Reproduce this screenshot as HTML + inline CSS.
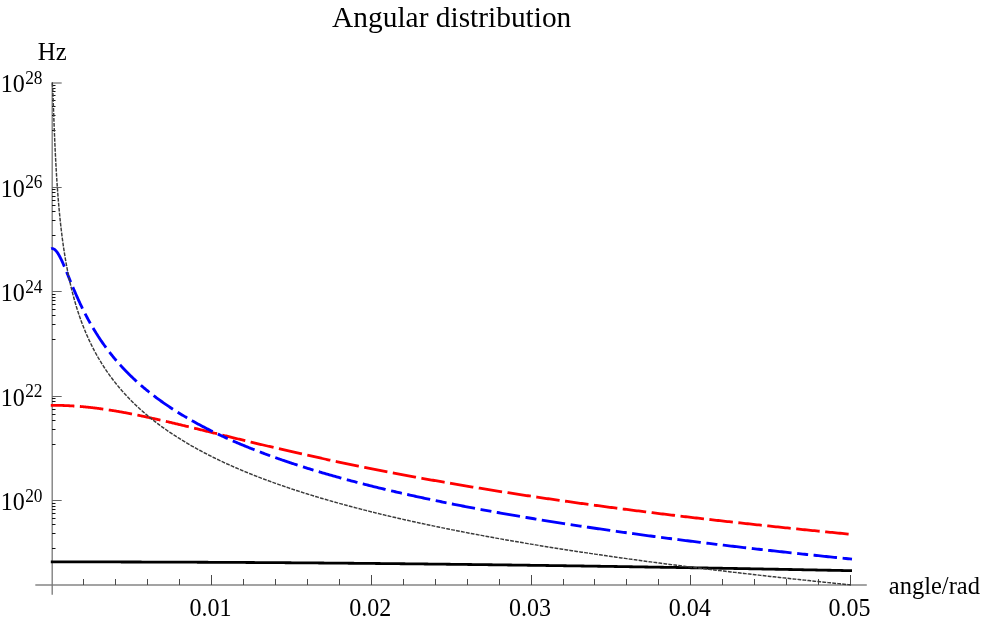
<!DOCTYPE html>
<html><head><meta charset="utf-8"><title>Angular distribution</title>
<style>html,body{margin:0;padding:0;background:#fff;width:981px;height:621px;overflow:hidden;font-family:"Liberation Serif",serif}</style></head>
<body>
<svg width="981" height="621" viewBox="0 0 981 621" style="position:absolute;left:0;top:0;will-change:transform">
<rect width="981" height="621" fill="#fff"/>
<g stroke="#858585" stroke-width="1.5" fill="none">
<line x1="35.3" y1="585.0" x2="866.8" y2="585.0"/>
<line x1="52.2" y1="82.0" x2="52.2" y2="594.8" stroke="#787878" stroke-width="1.3"/>
</g>
<g stroke="#4a4a4a" stroke-width="1" fill="none">
<line x1="83.50" y1="585.0" x2="83.50" y2="579.0"/>
<line x1="115.50" y1="585.0" x2="115.50" y2="579.0"/>
<line x1="147.50" y1="585.0" x2="147.50" y2="579.0"/>
<line x1="179.50" y1="585.0" x2="179.50" y2="579.0"/>
<line x1="211.50" y1="585.0" x2="211.50" y2="575.0"/>
<line x1="243.50" y1="585.0" x2="243.50" y2="579.0"/>
<line x1="275.50" y1="585.0" x2="275.50" y2="579.0"/>
<line x1="307.50" y1="585.0" x2="307.50" y2="579.0"/>
<line x1="339.50" y1="585.0" x2="339.50" y2="579.0"/>
<line x1="371.50" y1="585.0" x2="371.50" y2="575.0"/>
<line x1="403.50" y1="585.0" x2="403.50" y2="579.0"/>
<line x1="435.50" y1="585.0" x2="435.50" y2="579.0"/>
<line x1="467.50" y1="585.0" x2="467.50" y2="579.0"/>
<line x1="499.50" y1="585.0" x2="499.50" y2="579.0"/>
<line x1="531.50" y1="585.0" x2="531.50" y2="575.0"/>
<line x1="563.50" y1="585.0" x2="563.50" y2="579.0"/>
<line x1="594.50" y1="585.0" x2="594.50" y2="579.0"/>
<line x1="626.50" y1="585.0" x2="626.50" y2="579.0"/>
<line x1="658.50" y1="585.0" x2="658.50" y2="579.0"/>
<line x1="690.50" y1="585.0" x2="690.50" y2="575.0"/>
<line x1="722.50" y1="585.0" x2="722.50" y2="579.0"/>
<line x1="754.50" y1="585.0" x2="754.50" y2="579.0"/>
<line x1="786.50" y1="585.0" x2="786.50" y2="579.0"/>
<line x1="818.50" y1="585.0" x2="818.50" y2="579.0"/>
<line x1="850.50" y1="585.0" x2="850.50" y2="575.0"/>
</g>
<g stroke="#666" stroke-width="1" fill="none">
<line x1="52.0" y1="83.0" x2="61.7" y2="83.0" stroke="#707070" stroke-width="1.2"/>
<line x1="52.0" y1="187.50" x2="61.7" y2="187.50"/>
<line x1="52.0" y1="291.50" x2="61.7" y2="291.50"/>
<line x1="52.0" y1="396.50" x2="61.7" y2="396.50"/>
<line x1="52.0" y1="500.50" x2="61.7" y2="500.50"/>
</g>
<g stroke="#111" stroke-width="1" fill="none">
<line x1="52.0" y1="130.50" x2="55.5" y2="130.50"/>
<line x1="52.0" y1="115.50" x2="55.5" y2="115.50"/>
<line x1="52.0" y1="106.50" x2="55.5" y2="106.50"/>
<line x1="52.0" y1="100.50" x2="55.5" y2="100.50"/>
<line x1="52.0" y1="95.50" x2="55.5" y2="95.50"/>
<line x1="52.0" y1="91.50" x2="55.5" y2="91.50"/>
<line x1="52.0" y1="88.50" x2="55.5" y2="88.50"/>
<line x1="52.0" y1="85.50" x2="55.5" y2="85.50"/>
<line x1="52.0" y1="235.50" x2="55.5" y2="235.50"/>
<line x1="52.0" y1="220.50" x2="55.5" y2="220.50"/>
<line x1="52.0" y1="211.50" x2="55.5" y2="211.50"/>
<line x1="52.0" y1="205.50" x2="55.5" y2="205.50"/>
<line x1="52.0" y1="200.50" x2="55.5" y2="200.50"/>
<line x1="52.0" y1="196.50" x2="55.5" y2="196.50"/>
<line x1="52.0" y1="192.50" x2="55.5" y2="192.50"/>
<line x1="52.0" y1="189.50" x2="55.5" y2="189.50"/>
<line x1="52.0" y1="339.50" x2="55.5" y2="339.50"/>
<line x1="52.0" y1="324.50" x2="55.5" y2="324.50"/>
<line x1="52.0" y1="315.50" x2="55.5" y2="315.50"/>
<line x1="52.0" y1="309.50" x2="55.5" y2="309.50"/>
<line x1="52.0" y1="304.50" x2="55.5" y2="304.50"/>
<line x1="52.0" y1="300.50" x2="55.5" y2="300.50"/>
<line x1="52.0" y1="297.50" x2="55.5" y2="297.50"/>
<line x1="52.0" y1="294.50" x2="55.5" y2="294.50"/>
<line x1="52.0" y1="444.50" x2="55.5" y2="444.50"/>
<line x1="52.0" y1="429.50" x2="55.5" y2="429.50"/>
<line x1="52.0" y1="420.50" x2="55.5" y2="420.50"/>
<line x1="52.0" y1="414.50" x2="55.5" y2="414.50"/>
<line x1="52.0" y1="409.50" x2="55.5" y2="409.50"/>
<line x1="52.0" y1="405.50" x2="55.5" y2="405.50"/>
<line x1="52.0" y1="401.50" x2="55.5" y2="401.50"/>
<line x1="52.0" y1="398.50" x2="55.5" y2="398.50"/>
<line x1="52.0" y1="548.50" x2="55.5" y2="548.50"/>
<line x1="52.0" y1="533.50" x2="55.5" y2="533.50"/>
<line x1="52.0" y1="524.50" x2="55.5" y2="524.50"/>
<line x1="52.0" y1="518.50" x2="55.5" y2="518.50"/>
<line x1="52.0" y1="513.50" x2="55.5" y2="513.50"/>
<line x1="52.0" y1="509.50" x2="55.5" y2="509.50"/>
<line x1="52.0" y1="506.50" x2="55.5" y2="506.50"/>
<line x1="52.0" y1="503.50" x2="55.5" y2="503.50"/>
</g>
<path d="M50.80,561.90 L51.23,561.90 L51.67,561.90 L52.10,561.90 L52.10,561.90 L52.10,561.90 L52.11,561.90 L52.12,561.90 L52.13,561.90 L52.14,561.90 L52.16,561.90 L52.18,561.90 L52.20,561.90 L52.22,561.90 L52.25,561.90 L52.28,561.90 L52.31,561.90 L52.34,561.90 L52.38,561.90 L52.42,561.90 L52.46,561.90 L52.50,561.90 L52.55,561.90 L52.60,561.90 L52.65,561.90 L52.70,561.90 L52.76,561.90 L52.82,561.90 L52.88,561.90 L52.94,561.90 L53.01,561.90 L53.08,561.90 L53.15,561.90 L53.22,561.90 L53.30,561.90 L53.38,561.90 L53.46,561.90 L53.54,561.90 L53.63,561.90 L53.72,561.90 L53.81,561.90 L53.90,561.90 L54.00,561.90 L54.10,561.90 L54.20,561.90 L54.30,561.90 L54.41,561.90 L54.52,561.90 L54.63,561.90 L54.74,561.90 L54.86,561.90 L54.98,561.90 L55.10,561.90 L55.22,561.90 L55.35,561.90 L55.48,561.90 L55.61,561.90 L55.74,561.90 L55.88,561.90 L56.02,561.90 L56.16,561.90 L56.30,561.90 L56.45,561.90 L56.60,561.90 L56.75,561.90 L56.90,561.90 L57.06,561.90 L57.22,561.90 L57.38,561.90 L57.54,561.90 L57.71,561.90 L57.88,561.90 L58.05,561.90 L58.22,561.90 L58.40,561.90 L58.58,561.90 L58.76,561.90 L58.94,561.90 L59.13,561.90 L59.32,561.90 L59.51,561.90 L59.70,561.90 L59.90,561.90 L60.10,561.90 L60.30,561.90 L60.50,561.90 L60.71,561.90 L60.92,561.90 L61.13,561.90 L61.34,561.90 L61.56,561.90 L61.78,561.90 L62.00,561.90 L62.22,561.90 L62.45,561.90 L62.68,561.90 L62.91,561.90 L63.14,561.90 L63.38,561.90 L63.62,561.90 L63.86,561.90 L64.10,561.90 L64.35,561.90 L64.60,561.90 L64.85,561.91 L65.10,561.91 L65.36,561.91 L65.62,561.91 L65.88,561.91 L66.14,561.91 L66.41,561.91 L66.68,561.91 L66.95,561.91 L67.22,561.91 L67.50,561.91 L67.78,561.91 L68.06,561.91 L68.34,561.91 L68.63,561.91 L68.92,561.91 L69.21,561.91 L69.50,561.91 L69.80,561.91 L70.10,561.91 L70.40,561.91 L70.70,561.91 L71.01,561.91 L71.32,561.91 L71.63,561.91 L71.94,561.91 L72.26,561.91 L72.58,561.91 L72.90,561.91 L73.22,561.91 L73.55,561.91 L73.88,561.91 L74.21,561.91 L74.54,561.91 L74.88,561.91 L75.22,561.91 L75.56,561.91 L75.90,561.91 L76.25,561.91 L76.60,561.91 L76.95,561.91 L77.30,561.91 L77.66,561.91 L78.02,561.91 L78.38,561.91 L78.74,561.91 L79.11,561.91 L79.48,561.91 L79.85,561.91 L80.22,561.91 L80.60,561.92 L80.98,561.92 L81.36,561.92 L81.74,561.92 L82.13,561.92 L82.52,561.92 L82.91,561.92 L83.30,561.92 L83.70,561.92 L84.10,561.92 L84.50,561.92 L84.90,561.92 L85.31,561.92 L85.72,561.92 L86.13,561.92 L86.54,561.92 L86.96,561.92 L87.38,561.92 L87.80,561.92 L88.22,561.92 L88.65,561.92 L89.08,561.92 L89.51,561.92 L89.94,561.92 L90.38,561.93 L90.82,561.93 L91.26,561.93 L91.70,561.93 L92.15,561.93 L92.59,561.93 L93.05,561.93 L93.50,561.93 L93.96,561.93 L94.41,561.93 L94.88,561.93 L95.34,561.93 L95.81,561.93 L96.27,561.93 L96.75,561.93 L97.22,561.93 L97.70,561.93 L98.17,561.94 L98.66,561.94 L99.14,561.94 L99.63,561.94 L100.11,561.94 L100.61,561.94 L101.10,561.94 L101.60,561.94 L102.09,561.94 L102.59,561.94 L103.10,561.94 L103.60,561.94 L104.11,561.94 L104.62,561.94 L105.14,561.95 L105.65,561.95 L106.17,561.95 L106.69,561.95 L107.22,561.95 L107.74,561.95 L108.27,561.95 L108.80,561.95 L109.34,561.95 L109.87,561.95 L110.41,561.95 L110.95,561.96 L111.50,561.96 L112.04,561.96 L112.59,561.96 L113.14,561.96 L113.70,561.96 L114.25,561.96 L114.81,561.96 L115.37,561.96 L115.94,561.97 L116.50,561.97 L117.07,561.97 L117.64,561.97 L118.22,561.97 L118.79,561.97 L119.37,561.97 L119.95,561.97 L120.54,561.97 L121.12,561.98 L121.71,561.98 L122.30,561.98 L122.90,561.98 L123.49,561.98 L124.09,561.98 L124.69,561.98 L125.30,561.98 L125.90,561.99 L126.51,561.99 L127.12,561.99 L127.74,561.99 L128.35,561.99 L128.97,561.99 L129.59,561.99 L130.22,562.00 L130.84,562.00 L131.47,562.00 L132.10,562.00 L132.73,562.00 L133.37,562.00 L134.01,562.01 L134.65,562.01 L135.29,562.01 L135.94,562.01 L136.59,562.01 L137.24,562.01 L137.89,562.02 L138.55,562.02 L139.21,562.02 L139.87,562.02 L140.53,562.02 L141.20,562.02 L141.87,562.03 L142.54,562.03 L143.21,562.03 L143.89,562.03 L144.57,562.03 L145.25,562.04 L145.93,562.04 L146.62,562.04 L147.31,562.04 L148.00,562.04 L148.69,562.05 L149.39,562.05 L150.09,562.05 L150.79,562.05 L151.49,562.05 L152.20,562.06 L152.91,562.06 L153.62,562.06 L154.33,562.06 L155.05,562.07 L155.77,562.07 L156.49,562.07 L157.21,562.07 L157.94,562.07 L158.67,562.08 L159.40,562.08 L160.13,562.08 L160.87,562.08 L161.61,562.09 L162.35,562.09 L163.09,562.09 L163.84,562.09 L164.59,562.10 L165.34,562.10 L166.09,562.10 L166.85,562.10 L167.61,562.11 L168.37,562.11 L169.13,562.11 L169.90,562.12 L170.67,562.12 L171.44,562.12 L172.21,562.12 L172.99,562.13 L173.76,562.13 L174.55,562.13 L175.33,562.14 L176.12,562.14 L176.90,562.14 L177.70,562.14 L178.49,562.15 L179.29,562.15 L180.08,562.15 L180.89,562.16 L181.69,562.16 L182.49,562.16 L183.30,562.17 L184.11,562.17 L184.93,562.17 L185.74,562.18 L186.56,562.18 L187.38,562.18 L188.21,562.19 L189.03,562.19 L189.86,562.19 L190.69,562.20 L191.53,562.20 L192.36,562.20 L193.20,562.21 L194.04,562.21 L194.89,562.21 L195.73,562.22 L196.58,562.22 L197.43,562.23 L198.29,562.23 L199.14,562.23 L200.00,562.24 L200.86,562.24 L201.73,562.25 L202.59,562.25 L203.46,562.25 L204.33,562.26 L205.21,562.26 L206.08,562.27 L206.96,562.27 L207.84,562.27 L208.73,562.28 L209.61,562.28 L210.50,562.29 L211.39,562.29 L212.28,562.30 L213.18,562.30 L214.08,562.30 L214.98,562.31 L215.88,562.31 L216.79,562.32 L217.70,562.32 L218.61,562.33 L219.52,562.33 L220.44,562.34 L221.36,562.34 L222.28,562.35 L223.20,562.35 L224.13,562.35 L225.06,562.36 L225.99,562.36 L226.92,562.37 L227.86,562.37 L228.80,562.38 L229.74,562.38 L230.68,562.39 L231.63,562.39 L232.58,562.40 L233.53,562.41 L234.48,562.41 L235.44,562.42 L236.40,562.42 L237.36,562.43 L238.32,562.43 L239.29,562.44 L240.26,562.44 L241.23,562.45 L242.20,562.45 L243.18,562.46 L244.16,562.47 L245.14,562.47 L246.12,562.48 L247.11,562.48 L248.10,562.49 L249.09,562.49 L250.08,562.50 L251.08,562.51 L252.07,562.51 L253.08,562.52 L254.08,562.52 L255.09,562.53 L256.09,562.54 L257.11,562.54 L258.12,562.55 L259.14,562.56 L260.15,562.56 L261.18,562.57 L262.20,562.58 L263.22,562.58 L264.25,562.59 L265.28,562.60 L266.32,562.60 L267.35,562.61 L268.39,562.62 L269.43,562.62 L270.48,562.63 L271.52,562.64 L272.57,562.64 L273.62,562.65 L274.68,562.66 L275.73,562.66 L276.79,562.67 L277.85,562.68 L278.92,562.69 L279.98,562.69 L281.05,562.70 L282.12,562.71 L283.20,562.72 L284.27,562.72 L285.35,562.73 L286.43,562.74 L287.52,562.75 L288.60,562.75 L289.69,562.76 L290.78,562.77 L291.88,562.78 L292.97,562.78 L294.07,562.79 L295.17,562.80 L296.27,562.81 L297.38,562.82 L298.49,562.83 L299.60,562.83 L300.71,562.84 L301.83,562.85 L302.95,562.86 L304.07,562.87 L305.19,562.88 L306.32,562.88 L307.45,562.89 L308.58,562.90 L309.71,562.91 L310.85,562.92 L311.99,562.93 L313.13,562.94 L314.27,562.95 L315.42,562.95 L316.57,562.96 L317.72,562.97 L318.87,562.98 L320.03,562.99 L321.19,563.00 L322.35,563.01 L323.51,563.02 L324.68,563.03 L325.85,563.04 L327.02,563.05 L328.19,563.06 L329.37,563.07 L330.55,563.08 L331.73,563.09 L332.91,563.10 L334.10,563.11 L335.28,563.12 L336.48,563.13 L337.67,563.14 L338.87,563.15 L340.06,563.16 L341.27,563.17 L342.47,563.18 L343.67,563.19 L344.88,563.20 L346.09,563.21 L347.31,563.22 L348.52,563.23 L349.74,563.24 L350.96,563.25 L352.19,563.26 L353.41,563.27 L354.64,563.29 L355.87,563.30 L357.11,563.31 L358.34,563.32 L359.58,563.33 L360.82,563.34 L362.07,563.35 L363.31,563.36 L364.56,563.38 L365.81,563.39 L367.07,563.40 L368.32,563.41 L369.58,563.42 L370.84,563.43 L372.10,563.45 L373.37,563.46 L374.64,563.47 L375.91,563.48 L377.18,563.49 L378.46,563.51 L379.74,563.52 L381.02,563.53 L382.30,563.54 L383.59,563.56 L384.88,563.57 L386.17,563.58 L387.46,563.59 L388.76,563.61 L390.06,563.62 L391.36,563.63 L392.66,563.65 L393.97,563.66 L395.28,563.67 L396.59,563.69 L397.90,563.70 L399.22,563.71 L400.54,563.73 L401.86,563.74 L403.18,563.75 L404.51,563.77 L405.84,563.78 L407.17,563.79 L408.50,563.81 L409.84,563.82 L411.18,563.84 L412.52,563.85 L413.86,563.87 L415.21,563.88 L416.55,563.89 L417.91,563.91 L419.26,563.92 L420.62,563.94 L421.97,563.95 L423.33,563.97 L424.70,563.98 L426.06,564.00 L427.43,564.01 L428.80,564.03 L430.18,564.04 L431.55,564.06 L432.93,564.07 L434.31,564.09 L435.70,564.10 L437.08,564.12 L438.47,564.13 L439.86,564.15 L441.26,564.17 L442.65,564.18 L444.05,564.20 L445.45,564.21 L446.86,564.23 L448.26,564.24 L449.67,564.26 L451.08,564.28 L452.49,564.29 L453.91,564.31 L455.33,564.33 L456.75,564.34 L458.17,564.36 L459.60,564.38 L461.03,564.39 L462.46,564.41 L463.89,564.43 L465.33,564.44 L466.77,564.46 L468.21,564.48 L469.65,564.50 L471.10,564.51 L472.55,564.53 L474.00,564.55 L475.45,564.57 L476.91,564.58 L478.37,564.60 L479.83,564.62 L481.29,564.64 L482.76,564.66 L484.23,564.67 L485.70,564.69 L487.17,564.71 L488.65,564.73 L490.13,564.75 L491.61,564.77 L493.09,564.79 L494.58,564.80 L496.06,564.82 L497.56,564.84 L499.05,564.86 L500.55,564.88 L502.04,564.90 L503.54,564.92 L505.05,564.94 L506.55,564.96 L508.06,564.98 L509.57,565.00 L511.09,565.02 L512.60,565.04 L514.12,565.06 L515.64,565.08 L517.17,565.10 L518.69,565.12 L520.22,565.14 L521.75,565.16 L523.29,565.18 L524.82,565.20 L526.36,565.22 L527.90,565.24 L529.45,565.26 L530.99,565.28 L532.54,565.30 L534.09,565.32 L535.64,565.34 L537.20,565.37 L538.76,565.39 L540.32,565.41 L541.88,565.43 L543.45,565.45 L545.02,565.47 L546.59,565.49 L548.16,565.52 L549.74,565.54 L551.32,565.56 L552.90,565.58 L554.48,565.60 L556.07,565.63 L557.66,565.65 L559.25,565.67 L560.84,565.69 L562.44,565.72 L564.04,565.74 L565.64,565.76 L567.24,565.79 L568.85,565.81 L570.46,565.83 L572.07,565.86 L573.68,565.88 L575.30,565.90 L576.91,565.93 L578.54,565.95 L580.16,565.97 L581.79,566.00 L583.41,566.02 L585.04,566.05 L586.68,566.07 L588.31,566.09 L589.95,566.12 L591.59,566.14 L593.24,566.17 L594.88,566.19 L596.53,566.22 L598.18,566.24 L599.84,566.27 L601.49,566.29 L603.15,566.32 L604.81,566.34 L606.48,566.37 L608.14,566.39 L609.81,566.42 L611.48,566.44 L613.15,566.47 L614.83,566.50 L616.51,566.52 L618.19,566.55 L619.87,566.57 L621.56,566.60 L623.25,566.63 L624.94,566.65 L626.63,566.68 L628.33,566.71 L630.03,566.73 L631.73,566.76 L633.43,566.79 L635.14,566.81 L636.85,566.84 L638.56,566.87 L640.27,566.89 L641.99,566.92 L643.71,566.95 L645.43,566.98 L647.15,567.00 L648.88,567.03 L650.61,567.06 L652.34,567.09 L654.07,567.12 L655.81,567.14 L657.54,567.17 L659.29,567.20 L661.03,567.23 L662.77,567.26 L664.52,567.29 L666.27,567.32 L668.03,567.35 L669.78,567.37 L671.54,567.40 L673.30,567.43 L675.07,567.46 L676.83,567.49 L678.60,567.52 L680.37,567.55 L682.15,567.58 L683.92,567.61 L685.70,567.64 L687.48,567.67 L689.27,567.70 L691.05,567.73 L692.84,567.76 L694.63,567.79 L696.42,567.82 L698.22,567.85 L700.02,567.88 L701.82,567.91 L703.62,567.95 L705.43,567.98 L707.24,568.01 L709.05,568.04 L710.86,568.07 L712.68,568.10 L714.50,568.13 L716.32,568.17 L718.14,568.20 L719.97,568.23 L721.80,568.26 L723.63,568.29 L725.46,568.33 L727.30,568.36 L729.14,568.39 L730.98,568.42 L732.82,568.46 L734.67,568.49 L736.51,568.52 L738.37,568.55 L740.22,568.59 L742.07,568.62 L743.93,568.65 L745.79,568.69 L747.66,568.72 L749.52,568.76 L751.39,568.79 L753.26,568.82 L755.14,568.86 L757.01,568.89 L758.89,568.93 L760.77,568.96 L762.66,568.99 L764.54,569.03 L766.43,569.06 L768.32,569.10 L770.22,569.13 L772.11,569.17 L774.01,569.20 L775.91,569.24 L777.81,569.27 L779.72,569.31 L781.63,569.34 L783.54,569.38 L785.45,569.42 L787.37,569.45 L789.29,569.49 L791.21,569.52 L793.13,569.56 L795.06,569.60 L796.99,569.63 L798.92,569.67 L800.85,569.70 L802.79,569.74 L804.73,569.78 L806.67,569.81 L808.61,569.85 L810.56,569.89 L812.50,569.93 L814.46,569.96 L816.41,570.00 L818.37,570.04 L820.32,570.08 L822.28,570.11 L824.25,570.15 L826.21,570.19 L828.18,570.23 L830.15,570.27 L832.13,570.30 L834.10,570.34 L836.08,570.38 L838.06,570.42 L840.05,570.46 L842.03,570.50 L844.02,570.54 L846.01,570.58 L848.01,570.61 L850.00,570.65 L852.00,570.69" fill="none" stroke="#000" stroke-width="2.8"/>
<path d="M50.80,405.30 L51.23,405.30 L51.67,405.30 L52.10,405.30 L52.10,405.30 L52.10,405.30 L52.11,405.30 L52.12,405.30 L52.13,405.30 L52.14,405.30 L52.16,405.30 L52.18,405.30 L52.20,405.30 L52.22,405.30 L52.25,405.30 L52.28,405.30 L52.31,405.30 L52.34,405.30 L52.38,405.30 L52.42,405.30 L52.46,405.30 L52.50,405.30 L52.55,405.30 L52.60,405.30 L52.65,405.30 L52.70,405.30 L52.76,405.30 L52.82,405.30 L52.88,405.30 L52.94,405.30 L53.01,405.30 L53.08,405.30 L53.15,405.30 L53.22,405.30 L53.30,405.30 L53.38,405.30 L53.46,405.30 L53.54,405.30 L53.63,405.30 L53.72,405.30 L53.81,405.30 L53.90,405.30 L54.00,405.31 L54.10,405.31 L54.20,405.31 L54.30,405.31 L54.41,405.31 L54.52,405.31 L54.63,405.31 L54.74,405.31 L54.86,405.31 L54.98,405.31 L55.10,405.31 L55.22,405.31 L55.35,405.32 L55.48,405.32 L55.61,405.32 L55.74,405.32 L55.88,405.32 L56.02,405.32 L56.16,405.32 L56.30,405.33 L56.45,405.33 L56.60,405.33 L56.75,405.33 L56.90,405.33 L57.06,405.34 L57.22,405.34 L57.38,405.34 L57.54,405.34 L57.71,405.35 L57.88,405.35 L58.05,405.35 L58.22,405.36 L58.40,405.36 L58.58,405.36 L58.76,405.37 L58.94,405.37 L59.13,405.38 L59.32,405.38 L59.51,405.38 L59.70,405.39 L59.90,405.39 L60.10,405.40 L60.30,405.40 L60.50,405.41 L60.71,405.41 L60.92,405.42 L61.13,405.42 L61.34,405.43 L61.56,405.44 L61.78,405.44 L62.00,405.45 L62.22,405.46 L62.45,405.46 L62.68,405.47 L62.91,405.48 L63.14,405.49 L63.38,405.49 L63.62,405.50 L63.86,405.51 L64.10,405.52 L64.35,405.53 L64.60,405.54 L64.85,405.55 L65.10,405.56 L65.36,405.57 L65.62,405.58 L65.88,405.59 L66.14,405.60 L66.41,405.61 L66.68,405.62 L66.95,405.64 L67.22,405.65 L67.50,405.66 L67.78,405.67 L68.06,405.69 L68.34,405.70 L68.63,405.71 L68.92,405.73 L69.21,405.74 L69.50,405.76 L69.80,405.78 L70.10,405.79 L70.40,405.81 L70.70,405.82 L71.01,405.84 L71.32,405.86 L71.63,405.88 L71.94,405.90 L72.26,405.92 L72.58,405.94 L72.90,405.96 L73.22,405.98 L73.55,406.00 L73.88,406.02 L74.21,406.04 L74.54,406.06 L74.88,406.08 L75.22,406.11 L75.56,406.13 L75.90,406.16 L76.25,406.18 L76.60,406.21 L76.95,406.23 L77.30,406.26 L77.66,406.29 L78.02,406.31 L78.38,406.34 L78.74,406.37 L79.11,406.40 L79.48,406.43 L79.85,406.46 L80.22,406.49 L80.60,406.52 L80.98,406.55 L81.36,406.59 L81.74,406.62 L82.13,406.65 L82.52,406.69 L82.91,406.72 L83.30,406.76 L83.70,406.80 L84.10,406.83 L84.50,406.87 L84.90,406.91 L85.31,406.95 L85.72,406.99 L86.13,407.03 L86.54,407.07 L86.96,407.11 L87.38,407.16 L87.80,407.20 L88.22,407.24 L88.65,407.29 L89.08,407.34 L89.51,407.38 L89.94,407.43 L90.38,407.48 L90.82,407.53 L91.26,407.58 L91.70,407.63 L92.15,407.68 L92.59,407.73 L93.05,407.78 L93.50,407.84 L93.96,407.89 L94.41,407.95 L94.88,408.00 L95.34,408.06 L95.81,408.12 L96.27,408.17 L96.75,408.23 L97.22,408.29 L97.70,408.36 L98.17,408.42 L98.66,408.48 L99.14,408.54 L99.63,408.61 L100.11,408.67 L100.61,408.74 L101.10,408.81 L101.60,408.88 L102.09,408.95 L102.59,409.02 L103.10,409.09 L103.60,409.16 L104.11,409.23 L104.62,409.31 L105.14,409.38 L105.65,409.46 L106.17,409.53 L106.69,409.61 L107.22,409.69 L107.74,409.77 L108.27,409.85 L108.80,409.93 L109.34,410.01 L109.87,410.10 L110.41,410.18 L110.95,410.27 L111.50,410.35 L112.04,410.44 L112.59,410.53 L113.14,410.62 L113.70,410.71 L114.25,410.80 L114.81,410.90 L115.37,410.99 L115.94,411.08 L116.50,411.18 L117.07,411.28 L117.64,411.37 L118.22,411.47 L118.79,411.57 L119.37,411.67 L119.95,411.78 L120.54,411.88 L121.12,411.98 L121.71,412.09 L122.30,412.20 L122.90,412.30 L123.49,412.41 L124.09,412.52 L124.69,412.63 L125.30,412.74 L125.90,412.86 L126.51,412.97 L127.12,413.09 L127.74,413.20 L128.35,413.32 L128.97,413.44 L129.59,413.56 L130.22,413.68 L130.84,413.80 L131.47,413.92 L132.10,414.04 L132.73,414.17 L133.37,414.29 L134.01,414.42 L134.65,414.55 L135.29,414.68 L135.94,414.81 L136.59,414.94 L137.24,415.07 L137.89,415.20 L138.55,415.34 L139.21,415.47 L139.87,415.61 L140.53,415.75 L141.20,415.89 L141.87,416.03 L142.54,416.17 L143.21,416.31 L143.89,416.45 L144.57,416.60 L145.25,416.74 L145.93,416.89 L146.62,417.04 L147.31,417.19 L148.00,417.33 L148.69,417.49 L149.39,417.64 L150.09,417.79 L150.79,417.94 L151.49,418.10 L152.20,418.25 L152.91,418.41 L153.62,418.57 L154.33,418.73 L155.05,418.89 L155.77,419.05 L156.49,419.21 L157.21,419.37 L157.94,419.54 L158.67,419.70 L159.40,419.87 L160.13,420.04 L160.87,420.20 L161.61,420.37 L162.35,420.54 L163.09,420.71 L163.84,420.89 L164.59,421.06 L165.34,421.23 L166.09,421.41 L166.85,421.58 L167.61,421.76 L168.37,421.94 L169.13,422.12 L169.90,422.30 L170.67,422.48 L171.44,422.66 L172.21,422.84 L172.99,423.03 L173.76,423.21 L174.55,423.40 L175.33,423.58 L176.12,423.77 L176.90,423.96 L177.70,424.15 L178.49,424.34 L179.29,424.53 L180.08,424.72 L180.89,424.91 L181.69,425.11 L182.49,425.30 L183.30,425.49 L184.11,425.69 L184.93,425.89 L185.74,426.09 L186.56,426.28 L187.38,426.48 L188.21,426.68 L189.03,426.88 L189.86,427.09 L190.69,427.29 L191.53,427.49 L192.36,427.70 L193.20,427.90 L194.04,428.11 L194.89,428.31 L195.73,428.52 L196.58,428.73 L197.43,428.94 L198.29,429.15 L199.14,429.36 L200.00,429.57 L200.86,429.78 L201.73,429.99 L202.59,430.21 L203.46,430.42 L204.33,430.63 L205.21,430.85 L206.08,431.06 L206.96,431.28 L207.84,431.50 L208.73,431.72 L209.61,431.94 L210.50,432.15 L211.39,432.37 L212.28,432.59 L213.18,432.82 L214.08,433.04 L214.98,433.26 L215.88,433.48 L216.79,433.71 L217.70,433.93 L218.61,434.16 L219.52,434.38 L220.44,434.61 L221.36,434.83 L222.28,435.06 L223.20,435.29 L224.13,435.52 L225.06,435.74 L225.99,435.97 L226.92,436.20 L227.86,436.43 L228.80,436.66 L229.74,436.89 L230.68,437.13 L231.63,437.36 L232.58,437.59 L233.53,437.82 L234.48,438.06 L235.44,438.29 L236.40,438.53 L237.36,438.76 L238.32,439.00 L239.29,439.23 L240.26,439.47 L241.23,439.71 L242.20,439.94 L243.18,440.18 L244.16,440.42 L245.14,440.66 L246.12,440.90 L247.11,441.14 L248.10,441.37 L249.09,441.61 L250.08,441.86 L251.08,442.10 L252.07,442.34 L253.08,442.58 L254.08,442.82 L255.09,443.06 L256.09,443.30 L257.11,443.55 L258.12,443.79 L259.14,444.03 L260.15,444.28 L261.18,444.52 L262.20,444.76 L263.22,445.01 L264.25,445.25 L265.28,445.50 L266.32,445.74 L267.35,445.99 L268.39,446.24 L269.43,446.48 L270.48,446.73 L271.52,446.98 L272.57,447.22 L273.62,447.47 L274.68,447.72 L275.73,447.96 L276.79,448.21 L277.85,448.46 L278.92,448.71 L279.98,448.96 L281.05,449.20 L282.12,449.45 L283.20,449.70 L284.27,449.95 L285.35,450.20 L286.43,450.45 L287.52,450.70 L288.60,450.95 L289.69,451.20 L290.78,451.45 L291.88,451.70 L292.97,451.95 L294.07,452.20 L295.17,452.45 L296.27,452.70 L297.38,452.95 L298.49,453.20 L299.60,453.46 L300.71,453.71 L301.83,453.96 L302.95,454.21 L304.07,454.46 L305.19,454.71 L306.32,454.96 L307.45,455.22 L308.58,455.47 L309.71,455.72 L310.85,455.97 L311.99,456.22 L313.13,456.48 L314.27,456.73 L315.42,456.98 L316.57,457.23 L317.72,457.49 L318.87,457.74 L320.03,457.99 L321.19,458.24 L322.35,458.50 L323.51,458.75 L324.68,459.00 L325.85,459.25 L327.02,459.51 L328.19,459.76 L329.37,460.01 L330.55,460.26 L331.73,460.52 L332.91,460.77 L334.10,461.02 L335.28,461.28 L336.48,461.53 L337.67,461.78 L338.87,462.03 L340.06,462.29 L341.27,462.54 L342.47,462.79 L343.67,463.04 L344.88,463.30 L346.09,463.55 L347.31,463.80 L348.52,464.05 L349.74,464.31 L350.96,464.56 L352.19,464.81 L353.41,465.06 L354.64,465.31 L355.87,465.57 L357.11,465.82 L358.34,466.07 L359.58,466.32 L360.82,466.57 L362.07,466.83 L363.31,467.08 L364.56,467.33 L365.81,467.58 L367.07,467.83 L368.32,468.08 L369.58,468.34 L370.84,468.59 L372.10,468.84 L373.37,469.09 L374.64,469.34 L375.91,469.59 L377.18,469.84 L378.46,470.09 L379.74,470.34 L381.02,470.59 L382.30,470.84 L383.59,471.09 L384.88,471.34 L386.17,471.59 L387.46,471.84 L388.76,472.09 L390.06,472.34 L391.36,472.59 L392.66,472.84 L393.97,473.09 L395.28,473.34 L396.59,473.59 L397.90,473.84 L399.22,474.09 L400.54,474.33 L401.86,474.58 L403.18,474.83 L404.51,475.08 L405.84,475.33 L407.17,475.57 L408.50,475.82 L409.84,476.07 L411.18,476.32 L412.52,476.56 L413.86,476.81 L415.21,477.06 L416.55,477.31 L417.91,477.55 L419.26,477.80 L420.62,478.04 L421.97,478.29 L423.33,478.54 L424.70,478.78 L426.06,479.03 L427.43,479.27 L428.80,479.52 L430.18,479.76 L431.55,480.01 L432.93,480.25 L434.31,480.50 L435.70,480.74 L437.08,480.99 L438.47,481.23 L439.86,481.48 L441.26,481.72 L442.65,481.96 L444.05,482.21 L445.45,482.45 L446.86,482.69 L448.26,482.94 L449.67,483.18 L451.08,483.42 L452.49,483.66 L453.91,483.91 L455.33,484.15 L456.75,484.39 L458.17,484.63 L459.60,484.87 L461.03,485.11 L462.46,485.35 L463.89,485.59 L465.33,485.84 L466.77,486.08 L468.21,486.32 L469.65,486.56 L471.10,486.80 L472.55,487.03 L474.00,487.27 L475.45,487.51 L476.91,487.75 L478.37,487.99 L479.83,488.23 L481.29,488.47 L482.76,488.71 L484.23,488.94 L485.70,489.18 L487.17,489.42 L488.65,489.66 L490.13,489.89 L491.61,490.13 L493.09,490.37 L494.58,490.60 L496.06,490.84 L497.56,491.08 L499.05,491.31 L500.55,491.55 L502.04,491.78 L503.54,492.02 L505.05,492.25 L506.55,492.49 L508.06,492.72 L509.57,492.96 L511.09,493.19 L512.60,493.43 L514.12,493.66 L515.64,493.89 L517.17,494.13 L518.69,494.36 L520.22,494.59 L521.75,494.82 L523.29,495.06 L524.82,495.29 L526.36,495.52 L527.90,495.75 L529.45,495.98 L530.99,496.22 L532.54,496.45 L534.09,496.68 L535.64,496.91 L537.20,497.14 L538.76,497.37 L540.32,497.60 L541.88,497.83 L543.45,498.06 L545.02,498.29 L546.59,498.52 L548.16,498.75 L549.74,498.97 L551.32,499.20 L552.90,499.43 L554.48,499.66 L556.07,499.89 L557.66,500.11 L559.25,500.34 L560.84,500.57 L562.44,500.79 L564.04,501.02 L565.64,501.25 L567.24,501.47 L568.85,501.70 L570.46,501.93 L572.07,502.15 L573.68,502.38 L575.30,502.60 L576.91,502.83 L578.54,503.05 L580.16,503.28 L581.79,503.50 L583.41,503.72 L585.04,503.95 L586.68,504.17 L588.31,504.39 L589.95,504.62 L591.59,504.84 L593.24,505.06 L594.88,505.28 L596.53,505.51 L598.18,505.73 L599.84,505.95 L601.49,506.17 L603.15,506.39 L604.81,506.61 L606.48,506.83 L608.14,507.05 L609.81,507.27 L611.48,507.49 L613.15,507.71 L614.83,507.93 L616.51,508.15 L618.19,508.37 L619.87,508.59 L621.56,508.81 L623.25,509.03 L624.94,509.25 L626.63,509.46 L628.33,509.68 L630.03,509.90 L631.73,510.12 L633.43,510.33 L635.14,510.55 L636.85,510.77 L638.56,510.98 L640.27,511.20 L641.99,511.42 L643.71,511.63 L645.43,511.85 L647.15,512.06 L648.88,512.28 L650.61,512.49 L652.34,512.71 L654.07,512.92 L655.81,513.14 L657.54,513.35 L659.29,513.56 L661.03,513.78 L662.77,513.99 L664.52,514.20 L666.27,514.42 L668.03,514.63 L669.78,514.84 L671.54,515.05 L673.30,515.26 L675.07,515.48 L676.83,515.69 L678.60,515.90 L680.37,516.11 L682.15,516.32 L683.92,516.53 L685.70,516.74 L687.48,516.95 L689.27,517.16 L691.05,517.37 L692.84,517.58 L694.63,517.79 L696.42,518.00 L698.22,518.21 L700.02,518.42 L701.82,518.62 L703.62,518.83 L705.43,519.04 L707.24,519.25 L709.05,519.46 L710.86,519.66 L712.68,519.87 L714.50,520.08 L716.32,520.28 L718.14,520.49 L719.97,520.70 L721.80,520.90 L723.63,521.11 L725.46,521.31 L727.30,521.52 L729.14,521.72 L730.98,521.93 L732.82,522.13 L734.67,522.34 L736.51,522.54 L738.37,522.74 L740.22,522.95 L742.07,523.15 L743.93,523.35 L745.79,523.56 L747.66,523.76 L749.52,523.96 L751.39,524.17 L753.26,524.37 L755.14,524.57 L757.01,524.77 L758.89,524.97 L760.77,525.17 L762.66,525.38 L764.54,525.58 L766.43,525.78 L768.32,525.98 L770.22,526.18 L772.11,526.38 L774.01,526.58 L775.91,526.78 L777.81,526.98 L779.72,527.18 L781.63,527.37 L783.54,527.57 L785.45,527.77 L787.37,527.97 L789.29,528.17 L791.21,528.37 L793.13,528.56 L795.06,528.76 L796.99,528.96 L798.92,529.16 L800.85,529.35 L802.79,529.55 L804.73,529.75 L806.67,529.94 L808.61,530.14 L810.56,530.33 L812.50,530.53 L814.46,530.73 L816.41,530.92 L818.37,531.12 L820.32,531.31 L822.28,531.50 L824.25,531.70 L826.21,531.89 L828.18,532.09 L830.15,532.28 L832.13,532.47 L834.10,532.67 L836.08,532.86 L838.06,533.05 L840.05,533.25 L842.03,533.44 L844.02,533.63 L846.01,533.82 L848.01,534.02 L850.00,534.21 L852.00,534.40" fill="none" stroke="#ff0000" stroke-width="2.8" stroke-dasharray="23.6 5.5"/>
<path d="M50.80,248.85 L51.23,248.70 L51.67,248.62 L52.10,248.59 L52.10,248.59 L52.10,248.59 L52.11,248.59 L52.12,248.59 L52.13,248.59 L52.14,248.59 L52.16,248.59 L52.18,248.59 L52.20,248.59 L52.22,248.59 L52.25,248.60 L52.28,248.60 L52.31,248.60 L52.34,248.60 L52.38,248.60 L52.42,248.61 L52.46,248.61 L52.50,248.62 L52.55,248.62 L52.60,248.63 L52.65,248.64 L52.70,248.65 L52.76,248.66 L52.82,248.67 L52.88,248.68 L52.94,248.70 L53.01,248.72 L53.08,248.74 L53.15,248.76 L53.22,248.78 L53.30,248.81 L53.38,248.84 L53.46,248.87 L53.54,248.91 L53.63,248.94 L53.72,248.99 L53.81,249.03 L53.90,249.08 L54.00,249.13 L54.10,249.19 L54.20,249.25 L54.30,249.32 L54.41,249.39 L54.52,249.47 L54.63,249.55 L54.74,249.63 L54.86,249.73 L54.98,249.82 L55.10,249.93 L55.22,250.04 L55.35,250.16 L55.48,250.28 L55.61,250.41 L55.74,250.55 L55.88,250.69 L56.02,250.84 L56.16,251.01 L56.30,251.17 L56.45,251.35 L56.60,251.54 L56.75,251.73 L56.90,251.93 L57.06,252.14 L57.22,252.36 L57.38,252.59 L57.54,252.83 L57.71,253.08 L57.88,253.34 L58.05,253.61 L58.22,253.88 L58.40,254.17 L58.58,254.47 L58.76,254.78 L58.94,255.10 L59.13,255.43 L59.32,255.77 L59.51,256.12 L59.70,256.48 L59.90,256.85 L60.10,257.24 L60.30,257.63 L60.50,258.04 L60.71,258.45 L60.92,258.88 L61.13,259.31 L61.34,259.76 L61.56,260.22 L61.78,260.69 L62.00,261.17 L62.22,261.66 L62.45,262.16 L62.68,262.67 L62.91,263.19 L63.14,263.72 L63.38,264.26 L63.62,264.81 L63.86,265.37 L64.10,265.94 L64.35,266.52 L64.60,267.11 L64.85,267.71 L65.10,268.31 L65.36,268.93 L65.62,269.55 L65.88,270.18 L66.14,270.82 L66.41,271.47 L66.68,272.12 L66.95,272.78 L67.22,273.45 L67.50,274.13 L67.78,274.81 L68.06,275.50 L68.34,276.19 L68.63,276.90 L68.92,277.60 L69.21,278.32 L69.50,279.04 L69.80,279.76 L70.10,280.49 L70.40,281.22 L70.70,281.96 L71.01,282.71 L71.32,283.45 L71.63,284.20 L71.94,284.96 L72.26,285.72 L72.58,286.48 L72.90,287.25 L73.22,288.02 L73.55,288.79 L73.88,289.56 L74.21,290.34 L74.54,291.12 L74.88,291.90 L75.22,292.68 L75.56,293.47 L75.90,294.25 L76.25,295.04 L76.60,295.83 L76.95,296.62 L77.30,297.42 L77.66,298.21 L78.02,299.00 L78.38,299.80 L78.74,300.59 L79.11,301.39 L79.48,302.19 L79.85,302.98 L80.22,303.78 L80.60,304.58 L80.98,305.37 L81.36,306.17 L81.74,306.96 L82.13,307.76 L82.52,308.55 L82.91,309.35 L83.30,310.14 L83.70,310.94 L84.10,311.73 L84.50,312.52 L84.90,313.31 L85.31,314.10 L85.72,314.89 L86.13,315.68 L86.54,316.46 L86.96,317.25 L87.38,318.03 L87.80,318.81 L88.22,319.59 L88.65,320.37 L89.08,321.15 L89.51,321.92 L89.94,322.70 L90.38,323.47 L90.82,324.24 L91.26,325.01 L91.70,325.78 L92.15,326.54 L92.59,327.31 L93.05,328.07 L93.50,328.83 L93.96,329.59 L94.41,330.34 L94.88,331.10 L95.34,331.85 L95.81,332.60 L96.27,333.35 L96.75,334.09 L97.22,334.84 L97.70,335.58 L98.17,336.32 L98.66,337.05 L99.14,337.79 L99.63,338.52 L100.11,339.25 L100.61,339.98 L101.10,340.71 L101.60,341.43 L102.09,342.15 L102.59,342.87 L103.10,343.59 L103.60,344.31 L104.11,345.02 L104.62,345.73 L105.14,346.44 L105.65,347.14 L106.17,347.85 L106.69,348.55 L107.22,349.25 L107.74,349.95 L108.27,350.64 L108.80,351.33 L109.34,352.02 L109.87,352.71 L110.41,353.40 L110.95,354.08 L111.50,354.76 L112.04,355.44 L112.59,356.12 L113.14,356.79 L113.70,357.47 L114.25,358.14 L114.81,358.80 L115.37,359.47 L115.94,360.13 L116.50,360.79 L117.07,361.45 L117.64,362.11 L118.22,362.76 L118.79,363.42 L119.37,364.07 L119.95,364.71 L120.54,365.36 L121.12,366.00 L121.71,366.65 L122.30,367.29 L122.90,367.92 L123.49,368.56 L124.09,369.19 L124.69,369.82 L125.30,370.45 L125.90,371.08 L126.51,371.70 L127.12,372.32 L127.74,372.94 L128.35,373.56 L128.97,374.18 L129.59,374.79 L130.22,375.41 L130.84,376.02 L131.47,376.62 L132.10,377.23 L132.73,377.83 L133.37,378.44 L134.01,379.04 L134.65,379.63 L135.29,380.23 L135.94,380.82 L136.59,381.42 L137.24,382.01 L137.89,382.59 L138.55,383.18 L139.21,383.76 L139.87,384.35 L140.53,384.93 L141.20,385.51 L141.87,386.08 L142.54,386.66 L143.21,387.23 L143.89,387.80 L144.57,388.37 L145.25,388.94 L145.93,389.50 L146.62,390.07 L147.31,390.63 L148.00,391.19 L148.69,391.75 L149.39,392.31 L150.09,392.86 L150.79,393.41 L151.49,393.97 L152.20,394.52 L152.91,395.06 L153.62,395.61 L154.33,396.15 L155.05,396.70 L155.77,397.24 L156.49,397.78 L157.21,398.31 L157.94,398.85 L158.67,399.38 L159.40,399.92 L160.13,400.45 L160.87,400.98 L161.61,401.51 L162.35,402.03 L163.09,402.56 L163.84,403.08 L164.59,403.60 L165.34,404.12 L166.09,404.64 L166.85,405.15 L167.61,405.67 L168.37,406.18 L169.13,406.69 L169.90,407.20 L170.67,407.71 L171.44,408.22 L172.21,408.73 L172.99,409.23 L173.76,409.73 L174.55,410.23 L175.33,410.73 L176.12,411.23 L176.90,411.73 L177.70,412.22 L178.49,412.72 L179.29,413.21 L180.08,413.70 L180.89,414.19 L181.69,414.68 L182.49,415.16 L183.30,415.65 L184.11,416.13 L184.93,416.62 L185.74,417.10 L186.56,417.58 L187.38,418.05 L188.21,418.53 L189.03,419.01 L189.86,419.48 L190.69,419.95 L191.53,420.43 L192.36,420.90 L193.20,421.36 L194.04,421.83 L194.89,422.30 L195.73,422.76 L196.58,423.23 L197.43,423.69 L198.29,424.15 L199.14,424.61 L200.00,425.07 L200.86,425.53 L201.73,425.98 L202.59,426.44 L203.46,426.89 L204.33,427.34 L205.21,427.79 L206.08,428.24 L206.96,428.69 L207.84,429.14 L208.73,429.58 L209.61,430.03 L210.50,430.47 L211.39,430.91 L212.28,431.36 L213.18,431.80 L214.08,432.24 L214.98,432.67 L215.88,433.11 L216.79,433.54 L217.70,433.98 L218.61,434.41 L219.52,434.84 L220.44,435.28 L221.36,435.70 L222.28,436.13 L223.20,436.56 L224.13,436.99 L225.06,437.41 L225.99,437.84 L226.92,438.26 L227.86,438.68 L228.80,439.10 L229.74,439.52 L230.68,439.94 L231.63,440.36 L232.58,440.78 L233.53,441.19 L234.48,441.61 L235.44,442.02 L236.40,442.43 L237.36,442.84 L238.32,443.25 L239.29,443.66 L240.26,444.07 L241.23,444.48 L242.20,444.88 L243.18,445.29 L244.16,445.69 L245.14,446.10 L246.12,446.50 L247.11,446.90 L248.10,447.30 L249.09,447.70 L250.08,448.10 L251.08,448.49 L252.07,448.89 L253.08,449.29 L254.08,449.68 L255.09,450.07 L256.09,450.47 L257.11,450.86 L258.12,451.25 L259.14,451.64 L260.15,452.03 L261.18,452.42 L262.20,452.80 L263.22,453.19 L264.25,453.57 L265.28,453.96 L266.32,454.34 L267.35,454.72 L268.39,455.10 L269.43,455.49 L270.48,455.86 L271.52,456.24 L272.57,456.62 L273.62,457.00 L274.68,457.37 L275.73,457.75 L276.79,458.12 L277.85,458.50 L278.92,458.87 L279.98,459.24 L281.05,459.61 L282.12,459.98 L283.20,460.35 L284.27,460.72 L285.35,461.09 L286.43,461.46 L287.52,461.82 L288.60,462.19 L289.69,462.55 L290.78,462.91 L291.88,463.28 L292.97,463.64 L294.07,464.00 L295.17,464.36 L296.27,464.72 L297.38,465.08 L298.49,465.44 L299.60,465.79 L300.71,466.15 L301.83,466.50 L302.95,466.86 L304.07,467.21 L305.19,467.57 L306.32,467.92 L307.45,468.27 L308.58,468.62 L309.71,468.97 L310.85,469.32 L311.99,469.67 L313.13,470.02 L314.27,470.36 L315.42,470.71 L316.57,471.06 L317.72,471.40 L318.87,471.74 L320.03,472.09 L321.19,472.43 L322.35,472.77 L323.51,473.11 L324.68,473.45 L325.85,473.79 L327.02,474.13 L328.19,474.47 L329.37,474.81 L330.55,475.15 L331.73,475.48 L332.91,475.82 L334.10,476.15 L335.28,476.49 L336.48,476.82 L337.67,477.15 L338.87,477.48 L340.06,477.82 L341.27,478.15 L342.47,478.48 L343.67,478.81 L344.88,479.13 L346.09,479.46 L347.31,479.79 L348.52,480.12 L349.74,480.44 L350.96,480.77 L352.19,481.09 L353.41,481.42 L354.64,481.74 L355.87,482.06 L357.11,482.38 L358.34,482.71 L359.58,483.03 L360.82,483.35 L362.07,483.67 L363.31,483.98 L364.56,484.30 L365.81,484.62 L367.07,484.94 L368.32,485.25 L369.58,485.57 L370.84,485.88 L372.10,486.20 L373.37,486.51 L374.64,486.83 L375.91,487.14 L377.18,487.45 L378.46,487.76 L379.74,488.07 L381.02,488.38 L382.30,488.69 L383.59,489.00 L384.88,489.31 L386.17,489.62 L387.46,489.93 L388.76,490.23 L390.06,490.54 L391.36,490.84 L392.66,491.15 L393.97,491.45 L395.28,491.76 L396.59,492.06 L397.90,492.36 L399.22,492.66 L400.54,492.97 L401.86,493.27 L403.18,493.57 L404.51,493.87 L405.84,494.17 L407.17,494.47 L408.50,494.76 L409.84,495.06 L411.18,495.36 L412.52,495.65 L413.86,495.95 L415.21,496.25 L416.55,496.54 L417.91,496.83 L419.26,497.13 L420.62,497.42 L421.97,497.71 L423.33,498.01 L424.70,498.30 L426.06,498.59 L427.43,498.88 L428.80,499.17 L430.18,499.46 L431.55,499.75 L432.93,500.04 L434.31,500.33 L435.70,500.61 L437.08,500.90 L438.47,501.19 L439.86,501.47 L441.26,501.76 L442.65,502.04 L444.05,502.33 L445.45,502.61 L446.86,502.89 L448.26,503.18 L449.67,503.46 L451.08,503.74 L452.49,504.02 L453.91,504.30 L455.33,504.58 L456.75,504.86 L458.17,505.14 L459.60,505.42 L461.03,505.70 L462.46,505.98 L463.89,506.26 L465.33,506.53 L466.77,506.81 L468.21,507.09 L469.65,507.36 L471.10,507.64 L472.55,507.91 L474.00,508.18 L475.45,508.46 L476.91,508.73 L478.37,509.00 L479.83,509.28 L481.29,509.55 L482.76,509.82 L484.23,510.09 L485.70,510.36 L487.17,510.63 L488.65,510.90 L490.13,511.17 L491.61,511.44 L493.09,511.71 L494.58,511.97 L496.06,512.24 L497.56,512.51 L499.05,512.77 L500.55,513.04 L502.04,513.31 L503.54,513.57 L505.05,513.84 L506.55,514.10 L508.06,514.36 L509.57,514.63 L511.09,514.89 L512.60,515.15 L514.12,515.41 L515.64,515.68 L517.17,515.94 L518.69,516.20 L520.22,516.46 L521.75,516.72 L523.29,516.98 L524.82,517.24 L526.36,517.50 L527.90,517.75 L529.45,518.01 L530.99,518.27 L532.54,518.53 L534.09,518.78 L535.64,519.04 L537.20,519.29 L538.76,519.55 L540.32,519.81 L541.88,520.06 L543.45,520.31 L545.02,520.57 L546.59,520.82 L548.16,521.07 L549.74,521.33 L551.32,521.58 L552.90,521.83 L554.48,522.08 L556.07,522.33 L557.66,522.58 L559.25,522.83 L560.84,523.08 L562.44,523.33 L564.04,523.58 L565.64,523.83 L567.24,524.08 L568.85,524.33 L570.46,524.57 L572.07,524.82 L573.68,525.07 L575.30,525.31 L576.91,525.56 L578.54,525.80 L580.16,526.05 L581.79,526.29 L583.41,526.54 L585.04,526.78 L586.68,527.03 L588.31,527.27 L589.95,527.51 L591.59,527.76 L593.24,528.00 L594.88,528.24 L596.53,528.48 L598.18,528.72 L599.84,528.96 L601.49,529.20 L603.15,529.44 L604.81,529.68 L606.48,529.92 L608.14,530.16 L609.81,530.40 L611.48,530.64 L613.15,530.88 L614.83,531.11 L616.51,531.35 L618.19,531.59 L619.87,531.82 L621.56,532.06 L623.25,532.30 L624.94,532.53 L626.63,532.77 L628.33,533.00 L630.03,533.24 L631.73,533.47 L633.43,533.70 L635.14,533.94 L636.85,534.17 L638.56,534.40 L640.27,534.63 L641.99,534.87 L643.71,535.10 L645.43,535.33 L647.15,535.56 L648.88,535.79 L650.61,536.02 L652.34,536.25 L654.07,536.48 L655.81,536.71 L657.54,536.94 L659.29,537.17 L661.03,537.40 L662.77,537.62 L664.52,537.85 L666.27,538.08 L668.03,538.31 L669.78,538.53 L671.54,538.76 L673.30,538.99 L675.07,539.21 L676.83,539.44 L678.60,539.66 L680.37,539.89 L682.15,540.11 L683.92,540.34 L685.70,540.56 L687.48,540.78 L689.27,541.01 L691.05,541.23 L692.84,541.45 L694.63,541.67 L696.42,541.90 L698.22,542.12 L700.02,542.34 L701.82,542.56 L703.62,542.78 L705.43,543.00 L707.24,543.22 L709.05,543.44 L710.86,543.66 L712.68,543.88 L714.50,544.10 L716.32,544.32 L718.14,544.54 L719.97,544.75 L721.80,544.97 L723.63,545.19 L725.46,545.41 L727.30,545.62 L729.14,545.84 L730.98,546.06 L732.82,546.27 L734.67,546.49 L736.51,546.70 L738.37,546.92 L740.22,547.13 L742.07,547.35 L743.93,547.56 L745.79,547.78 L747.66,547.99 L749.52,548.20 L751.39,548.42 L753.26,548.63 L755.14,548.84 L757.01,549.05 L758.89,549.27 L760.77,549.48 L762.66,549.69 L764.54,549.90 L766.43,550.11 L768.32,550.32 L770.22,550.53 L772.11,550.74 L774.01,550.95 L775.91,551.16 L777.81,551.37 L779.72,551.58 L781.63,551.79 L783.54,552.00 L785.45,552.20 L787.37,552.41 L789.29,552.62 L791.21,552.83 L793.13,553.03 L795.06,553.24 L796.99,553.45 L798.92,553.65 L800.85,553.86 L802.79,554.07 L804.73,554.27 L806.67,554.48 L808.61,554.68 L810.56,554.89 L812.50,555.09 L814.46,555.29 L816.41,555.50 L818.37,555.70 L820.32,555.90 L822.28,556.11 L824.25,556.31 L826.21,556.51 L828.18,556.72 L830.15,556.92 L832.13,557.12 L834.10,557.32 L836.08,557.52 L838.06,557.72 L840.05,557.92 L842.03,558.12 L844.02,558.32 L846.01,558.52 L848.01,558.72 L850.00,558.92 L852.00,559.12" fill="none" stroke="#0000ff" stroke-width="2.85" stroke-dasharray="23.57 5.64 11.03 5.44" stroke-dashoffset="-0.4"/>
<path d="M52.10,83.00 L52.10,83.00 L52.10,83.00 L52.11,83.01 L52.12,83.01 L52.13,83.02 L52.14,83.04 L52.16,83.07 L52.18,83.12 L52.20,83.19 L52.22,83.29 L52.25,83.42 L52.28,83.60 L52.31,83.82 L52.34,84.09 L52.38,84.43 L52.42,84.85 L52.46,85.34 L52.50,85.92 L52.55,86.59 L52.60,87.36 L52.65,88.24 L52.70,89.24 L52.76,90.34 L52.82,91.57 L52.88,92.91 L52.94,94.38 L53.01,95.96 L53.08,97.65 L53.15,99.46 L53.22,101.37 L53.30,103.38 L53.38,105.48 L53.46,107.67 L53.54,109.94 L53.63,112.28 L53.72,114.68 L53.81,117.13 L53.90,119.63 L54.00,122.17 L54.10,124.74 L54.20,127.34 L54.30,129.96 L54.41,132.59 L54.52,135.24 L54.63,137.88 L54.74,140.53 L54.86,143.18 L54.98,145.82 L55.10,148.45 L55.22,151.06 L55.35,153.66 L55.48,156.25 L55.61,158.82 L55.74,161.37 L55.88,163.90 L56.02,166.40 L56.16,168.89 L56.30,171.35 L56.45,173.78 L56.60,176.20 L56.75,178.58 L56.90,180.95 L57.06,183.28 L57.22,185.60 L57.38,187.89 L57.54,190.15 L57.71,192.39 L57.88,194.60 L58.05,196.79 L58.22,198.96 L58.40,201.10 L58.58,203.21 L58.76,205.31 L58.94,207.38 L59.13,209.43 L59.32,211.45 L59.51,213.45 L59.70,215.43 L59.90,217.39 L60.10,219.33 L60.30,221.25 L60.50,223.14 L60.71,225.02 L60.92,226.88 L61.13,228.71 L61.34,230.53 L61.56,232.33 L61.78,234.11 L62.00,235.87 L62.22,237.61 L62.45,239.34 L62.68,241.05 L62.91,242.74 L63.14,244.41 L63.38,246.07 L63.62,247.71 L63.86,249.34 L64.10,250.95 L64.35,252.54 L64.60,254.12 L64.85,255.69 L65.10,257.24 L65.36,258.77 L65.62,260.29 L65.88,261.80 L66.14,263.29 L66.41,264.78 L66.68,266.24 L66.95,267.70 L67.22,269.14 L67.50,270.57 L67.78,271.98 L68.06,273.39 L68.34,274.78 L68.63,276.16 L68.92,277.53 L69.21,278.89 L69.50,280.24 L69.80,281.57 L70.10,282.90 L70.40,284.21 L70.70,285.52 L71.01,286.81 L71.32,288.09 L71.63,289.36 L71.94,290.63 L72.26,291.88 L72.58,293.12 L72.90,294.36 L73.22,295.58 L73.55,296.80 L73.88,298.00 L74.21,299.20 L74.54,300.39 L74.88,301.57 L75.22,302.74 L75.56,303.91 L75.90,305.06 L76.25,306.21 L76.60,307.35 L76.95,308.48 L77.30,309.60 L77.66,310.71 L78.02,311.82 L78.38,312.92 L78.74,314.01 L79.11,315.10 L79.48,316.17 L79.85,317.24 L80.22,318.31 L80.60,319.36 L80.98,320.41 L81.36,321.46 L81.74,322.49 L82.13,323.52 L82.52,324.54 L82.91,325.56 L83.30,326.57 L83.70,327.57 L84.10,328.57 L84.50,329.56 L84.90,330.54 L85.31,331.52 L85.72,332.50 L86.13,333.46 L86.54,334.43 L86.96,335.38 L87.38,336.33 L87.80,337.27 L88.22,338.21 L88.65,339.15 L89.08,340.07 L89.51,341.00 L89.94,341.91 L90.38,342.83 L90.82,343.73 L91.26,344.64 L91.70,345.53 L92.15,346.42 L92.59,347.31 L93.05,348.19 L93.50,349.07 L93.96,349.94 L94.41,350.81 L94.88,351.67 L95.34,352.53 L95.81,353.38 L96.27,354.23 L96.75,355.08 L97.22,355.92 L97.70,356.75 L98.17,357.59 L98.66,358.41 L99.14,359.24 L99.63,360.05 L100.11,360.87 L100.61,361.68 L101.10,362.48 L101.60,363.29 L102.09,364.09 L102.59,364.88 L103.10,365.67 L103.60,366.46 L104.11,367.24 L104.62,368.02 L105.14,368.79 L105.65,369.56 L106.17,370.33 L106.69,371.10 L107.22,371.86 L107.74,372.61 L108.27,373.37 L108.80,374.12 L109.34,374.86 L109.87,375.60 L110.41,376.34 L110.95,377.08 L111.50,377.81 L112.04,378.54 L112.59,379.27 L113.14,379.99 L113.70,380.71 L114.25,381.42 L114.81,382.14 L115.37,382.85 L115.94,383.55 L116.50,384.26 L117.07,384.96 L117.64,385.65 L118.22,386.35 L118.79,387.04 L119.37,387.73 L119.95,388.41 L120.54,389.09 L121.12,389.77 L121.71,390.45 L122.30,391.12 L122.90,391.79 L123.49,392.46 L124.09,393.13 L124.69,393.79 L125.30,394.45 L125.90,395.11 L126.51,395.76 L127.12,396.41 L127.74,397.06 L128.35,397.71 L128.97,398.35 L129.59,398.99 L130.22,399.63 L130.84,400.27 L131.47,400.90 L132.10,401.53 L132.73,402.16 L133.37,402.79 L134.01,403.41 L134.65,404.03 L135.29,404.65 L135.94,405.27 L136.59,405.88 L137.24,406.49 L137.89,407.10 L138.55,407.71 L139.21,408.31 L139.87,408.92 L140.53,409.52 L141.20,410.11 L141.87,410.71 L142.54,411.30 L143.21,411.89 L143.89,412.48 L144.57,413.07 L145.25,413.65 L145.93,414.24 L146.62,414.82 L147.31,415.40 L148.00,415.97 L148.69,416.55 L149.39,417.12 L150.09,417.69 L150.79,418.26 L151.49,418.82 L152.20,419.39 L152.91,419.95 L153.62,420.51 L154.33,421.07 L155.05,421.62 L155.77,422.18 L156.49,422.73 L157.21,423.28 L157.94,423.83 L158.67,424.38 L159.40,424.92 L160.13,425.46 L160.87,426.00 L161.61,426.54 L162.35,427.08 L163.09,427.62 L163.84,428.15 L164.59,428.68 L165.34,429.21 L166.09,429.74 L166.85,430.27 L167.61,430.79 L168.37,431.32 L169.13,431.84 L169.90,432.36 L170.67,432.88 L171.44,433.39 L172.21,433.91 L172.99,434.42 L173.76,434.93 L174.55,435.44 L175.33,435.95 L176.12,436.46 L176.90,436.96 L177.70,437.47 L178.49,437.97 L179.29,438.47 L180.08,438.97 L180.89,439.47 L181.69,439.96 L182.49,440.46 L183.30,440.95 L184.11,441.44 L184.93,441.93 L185.74,442.42 L186.56,442.90 L187.38,443.39 L188.21,443.87 L189.03,444.35 L189.86,444.84 L190.69,445.31 L191.53,445.79 L192.36,446.27 L193.20,446.74 L194.04,447.22 L194.89,447.69 L195.73,448.16 L196.58,448.63 L197.43,449.10 L198.29,449.56 L199.14,450.03 L200.00,450.49 L200.86,450.96 L201.73,451.42 L202.59,451.88 L203.46,452.34 L204.33,452.79 L205.21,453.25 L206.08,453.70 L206.96,454.16 L207.84,454.61 L208.73,455.06 L209.61,455.51 L210.50,455.96 L211.39,456.41 L212.28,456.85 L213.18,457.30 L214.08,457.74 L214.98,458.18 L215.88,458.62 L216.79,459.06 L217.70,459.50 L218.61,459.94 L219.52,460.37 L220.44,460.81 L221.36,461.24 L222.28,461.67 L223.20,462.11 L224.13,462.54 L225.06,462.97 L225.99,463.39 L226.92,463.82 L227.86,464.25 L228.80,464.67 L229.74,465.09 L230.68,465.52 L231.63,465.94 L232.58,466.36 L233.53,466.78 L234.48,467.19 L235.44,467.61 L236.40,468.03 L237.36,468.44 L238.32,468.85 L239.29,469.27 L240.26,469.68 L241.23,470.09 L242.20,470.50 L243.18,470.90 L244.16,471.31 L245.14,471.72 L246.12,472.12 L247.11,472.53 L248.10,472.93 L249.09,473.33 L250.08,473.73 L251.08,474.13 L252.07,474.53 L253.08,474.93 L254.08,475.33 L255.09,475.72 L256.09,476.12 L257.11,476.51 L258.12,476.90 L259.14,477.30 L260.15,477.69 L261.18,478.08 L262.20,478.47 L263.22,478.85 L264.25,479.24 L265.28,479.63 L266.32,480.01 L267.35,480.40 L268.39,480.78 L269.43,481.16 L270.48,481.55 L271.52,481.93 L272.57,482.31 L273.62,482.69 L274.68,483.06 L275.73,483.44 L276.79,483.82 L277.85,484.19 L278.92,484.57 L279.98,484.94 L281.05,485.31 L282.12,485.69 L283.20,486.06 L284.27,486.43 L285.35,486.80 L286.43,487.17 L287.52,487.53 L288.60,487.90 L289.69,488.27 L290.78,488.63 L291.88,489.00 L292.97,489.36 L294.07,489.72 L295.17,490.08 L296.27,490.44 L297.38,490.80 L298.49,491.16 L299.60,491.52 L300.71,491.88 L301.83,492.24 L302.95,492.59 L304.07,492.95 L305.19,493.30 L306.32,493.66 L307.45,494.01 L308.58,494.36 L309.71,494.71 L310.85,495.06 L311.99,495.41 L313.13,495.76 L314.27,496.11 L315.42,496.46 L316.57,496.81 L317.72,497.15 L318.87,497.50 L320.03,497.84 L321.19,498.19 L322.35,498.53 L323.51,498.87 L324.68,499.21 L325.85,499.55 L327.02,499.89 L328.19,500.23 L329.37,500.57 L330.55,500.91 L331.73,501.25 L332.91,501.58 L334.10,501.92 L335.28,502.26 L336.48,502.59 L337.67,502.92 L338.87,503.26 L340.06,503.59 L341.27,503.92 L342.47,504.25 L343.67,504.58 L344.88,504.91 L346.09,505.24 L347.31,505.57 L348.52,505.90 L349.74,506.22 L350.96,506.55 L352.19,506.88 L353.41,507.20 L354.64,507.53 L355.87,507.85 L357.11,508.17 L358.34,508.49 L359.58,508.82 L360.82,509.14 L362.07,509.46 L363.31,509.78 L364.56,510.10 L365.81,510.41 L367.07,510.73 L368.32,511.05 L369.58,511.37 L370.84,511.68 L372.10,512.00 L373.37,512.31 L374.64,512.63 L375.91,512.94 L377.18,513.25 L378.46,513.56 L379.74,513.88 L381.02,514.19 L382.30,514.50 L383.59,514.81 L384.88,515.12 L386.17,515.42 L387.46,515.73 L388.76,516.04 L390.06,516.35 L391.36,516.65 L392.66,516.96 L393.97,517.26 L395.28,517.57 L396.59,517.87 L397.90,518.18 L399.22,518.48 L400.54,518.78 L401.86,519.08 L403.18,519.38 L404.51,519.68 L405.84,519.98 L407.17,520.28 L408.50,520.58 L409.84,520.88 L411.18,521.18 L412.52,521.47 L413.86,521.77 L415.21,522.07 L416.55,522.36 L417.91,522.66 L419.26,522.95 L420.62,523.25 L421.97,523.54 L423.33,523.83 L424.70,524.12 L426.06,524.41 L427.43,524.71 L428.80,525.00 L430.18,525.29 L431.55,525.58 L432.93,525.87 L434.31,526.15 L435.70,526.44 L437.08,526.73 L438.47,527.02 L439.86,527.30 L441.26,527.59 L442.65,527.87 L444.05,528.16 L445.45,528.44 L446.86,528.73 L448.26,529.01 L449.67,529.29 L451.08,529.58 L452.49,529.86 L453.91,530.14 L455.33,530.42 L456.75,530.70 L458.17,530.98 L459.60,531.26 L461.03,531.54 L462.46,531.82 L463.89,532.09 L465.33,532.37 L466.77,532.65 L468.21,532.93 L469.65,533.20 L471.10,533.48 L472.55,533.75 L474.00,534.03 L475.45,534.30 L476.91,534.57 L478.37,534.85 L479.83,535.12 L481.29,535.39 L482.76,535.66 L484.23,535.93 L485.70,536.21 L487.17,536.48 L488.65,536.75 L490.13,537.02 L491.61,537.28 L493.09,537.55 L494.58,537.82 L496.06,538.09 L497.56,538.36 L499.05,538.62 L500.55,538.89 L502.04,539.15 L503.54,539.42 L505.05,539.69 L506.55,539.95 L508.06,540.21 L509.57,540.48 L511.09,540.74 L512.60,541.00 L514.12,541.27 L515.64,541.53 L517.17,541.79 L518.69,542.05 L520.22,542.31 L521.75,542.57 L523.29,542.83 L524.82,543.09 L526.36,543.35 L527.90,543.61 L529.45,543.87 L530.99,544.12 L532.54,544.38 L534.09,544.64 L535.64,544.89 L537.20,545.15 L538.76,545.41 L540.32,545.66 L541.88,545.92 L543.45,546.17 L545.02,546.42 L546.59,546.68 L548.16,546.93 L549.74,547.18 L551.32,547.44 L552.90,547.69 L554.48,547.94 L556.07,548.19 L557.66,548.44 L559.25,548.69 L560.84,548.94 L562.44,549.19 L564.04,549.44 L565.64,549.69 L567.24,549.94 L568.85,550.19 L570.46,550.43 L572.07,550.68 L573.68,550.93 L575.30,551.18 L576.91,551.42 L578.54,551.67 L580.16,551.91 L581.79,552.16 L583.41,552.40 L585.04,552.65 L586.68,552.89 L588.31,553.13 L589.95,553.38 L591.59,553.62 L593.24,553.86 L594.88,554.10 L596.53,554.35 L598.18,554.59 L599.84,554.83 L601.49,555.07 L603.15,555.31 L604.81,555.55 L606.48,555.79 L608.14,556.03 L609.81,556.27 L611.48,556.50 L613.15,556.74 L614.83,556.98 L616.51,557.22 L618.19,557.45 L619.87,557.69 L621.56,557.93 L623.25,558.16 L624.94,558.40 L626.63,558.63 L628.33,558.87 L630.03,559.10 L631.73,559.34 L633.43,559.57 L635.14,559.81 L636.85,560.04 L638.56,560.27 L640.27,560.50 L641.99,560.74 L643.71,560.97 L645.43,561.20 L647.15,561.43 L648.88,561.66 L650.61,561.89 L652.34,562.12 L654.07,562.35 L655.81,562.58 L657.54,562.81 L659.29,563.04 L661.03,563.27 L662.77,563.50 L664.52,563.72 L666.27,563.95 L668.03,564.18 L669.78,564.41 L671.54,564.63 L673.30,564.86 L675.07,565.08 L676.83,565.31 L678.60,565.54 L680.37,565.76 L682.15,565.99 L683.92,566.21 L685.70,566.43 L687.48,566.66 L689.27,566.88 L691.05,567.10 L692.84,567.33 L694.63,567.55 L696.42,567.77 L698.22,567.99 L700.02,568.21 L701.82,568.44 L703.62,568.66 L705.43,568.88 L707.24,569.10 L709.05,569.32 L710.86,569.54 L712.68,569.76 L714.50,569.98 L716.32,570.19 L718.14,570.41 L719.97,570.63 L721.80,570.85 L723.63,571.07 L725.46,571.28 L727.30,571.50 L729.14,571.72 L730.98,571.93 L732.82,572.15 L734.67,572.37 L736.51,572.58 L738.37,572.80 L740.22,573.01 L742.07,573.23 L743.93,573.44 L745.79,573.65 L747.66,573.87 L749.52,574.08 L751.39,574.30 L753.26,574.51 L755.14,574.72 L757.01,574.93 L758.89,575.15 L760.77,575.36 L762.66,575.57 L764.54,575.78 L766.43,575.99 L768.32,576.20 L770.22,576.41 L772.11,576.62 L774.01,576.83 L775.91,577.04 L777.81,577.25 L779.72,577.46 L781.63,577.67 L783.54,577.88 L785.45,578.09 L787.37,578.29 L789.29,578.50 L791.21,578.71 L793.13,578.92 L795.06,579.12 L796.99,579.33 L798.92,579.54 L800.85,579.74 L802.79,579.95 L804.73,580.15 L806.67,580.36 L808.61,580.56 L810.56,580.77 L812.50,580.97 L814.46,581.18 L816.41,581.38 L818.37,581.58 L820.32,581.79 L822.28,581.99 L824.25,582.19 L826.21,582.40 L828.18,582.60 L830.15,582.80 L832.13,583.00 L834.10,583.20 L836.08,583.41 L838.06,583.61 L840.05,583.81 L842.03,584.01 L844.02,584.21 L846.01,584.41 L848.01,584.61 L850.00,584.81 L852.00,585.01" fill="none" stroke="#3a3a3a" stroke-width="1.45" stroke-dasharray="3.8 1.2"/>
<g font-family="'Liberation Serif', serif" fill="#000">
<text transform="translate(451.70,26.80) scale(1.0,0.99)" font-size="29.4" text-anchor="middle">Angular distribution</text>
<text transform="translate(52.20,60.20) scale(1.03,1.04)" font-size="24" text-anchor="middle">Hz</text>
<text transform="translate(979.90,593.50) scale(1.02,1.03)" font-size="24" text-anchor="end">angle/rad</text>
<text transform="translate(210.60,615.70) scale(1.0,1.06)" font-size="24" text-anchor="middle">0.01</text>
<text transform="translate(370.30,615.70) scale(1.0,1.06)" font-size="24" text-anchor="middle">0.02</text>
<text transform="translate(530.00,615.70) scale(1.0,1.06)" font-size="24" text-anchor="middle">0.03</text>
<text transform="translate(689.70,615.70) scale(1.0,1.06)" font-size="24" text-anchor="middle">0.04</text>
<text transform="translate(849.40,615.70) scale(1.0,1.06)" font-size="24" text-anchor="middle">0.05</text>
<text transform="translate(0.75,92.40) scale(1.0,1.06)" font-size="24" text-anchor="start">10</text>
<text transform="translate(25.15,83.80) scale(1.02,1.06)" font-size="17" text-anchor="start">28</text>
<text transform="translate(0.75,196.90) scale(1.0,1.06)" font-size="24" text-anchor="start">10</text>
<text transform="translate(25.15,188.30) scale(1.02,1.06)" font-size="17" text-anchor="start">26</text>
<text transform="translate(0.75,301.40) scale(1.0,1.06)" font-size="24" text-anchor="start">10</text>
<text transform="translate(25.15,292.80) scale(1.02,1.06)" font-size="17" text-anchor="start">24</text>
<text transform="translate(0.75,405.90) scale(1.0,1.06)" font-size="24" text-anchor="start">10</text>
<text transform="translate(25.15,397.30) scale(1.02,1.06)" font-size="17" text-anchor="start">22</text>
<text transform="translate(0.75,510.40) scale(1.0,1.06)" font-size="24" text-anchor="start">10</text>
<text transform="translate(25.15,501.80) scale(1.02,1.06)" font-size="17" text-anchor="start">20</text>
</g>
</svg>
</body></html>
